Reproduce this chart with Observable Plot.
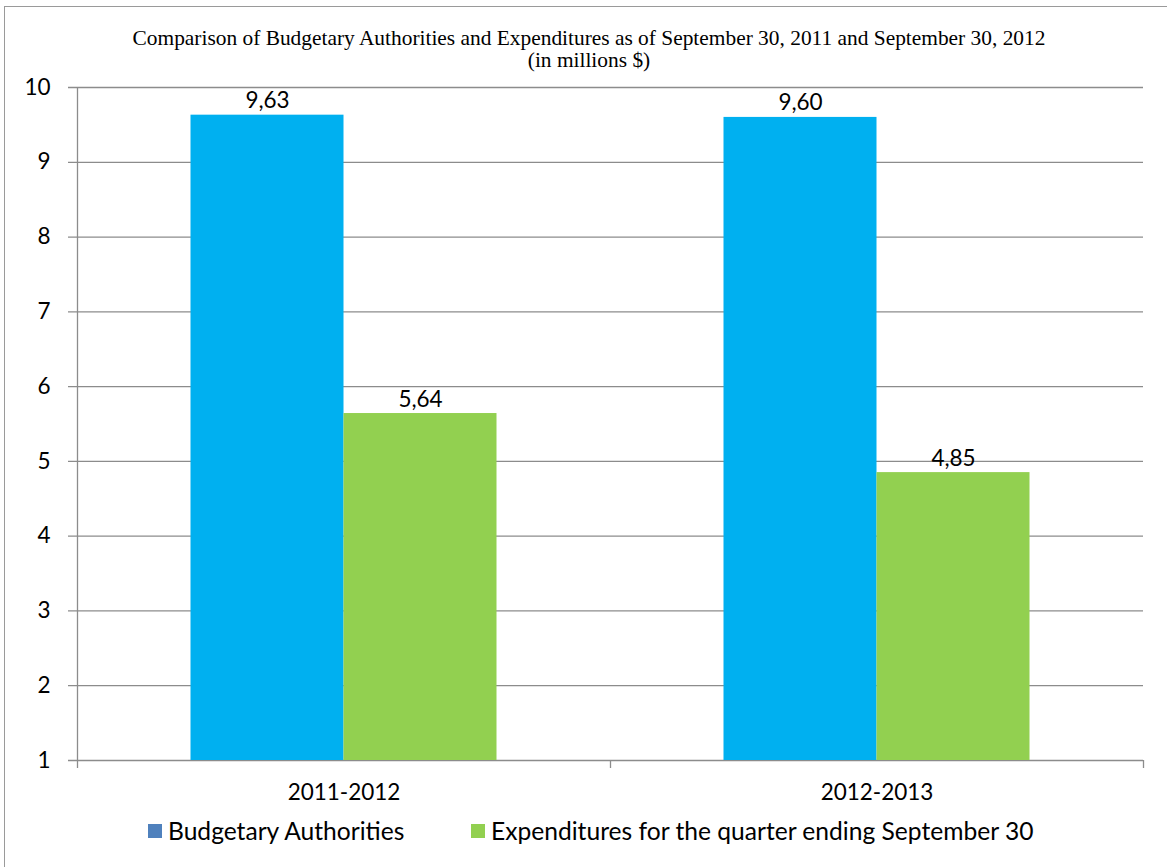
<!DOCTYPE html>
<html>
<head>
<meta charset="utf-8">
<script src="https://cdn.jsdelivr.net/npm/d3@7"></script>
<script src="https://cdn.jsdelivr.net/npm/@observablehq/plot@0.6"></script>
<style>
  html, body { margin: 0; padding: 0; background: #fff; }
  #wrap { position: relative; width: 1167px; height: 867px; overflow: hidden; background: #fff; }
  #border { position: absolute; left: 4px; top: 6px; width: 1200px; height: 900px; border-top: 1.5px solid #9a9a9a; border-left: 1.5px solid #9a9a9a; }
  #title { position: absolute; left: 0; width: 1178px; top: 27px; text-align: center; font-family: "Liberation Serif", "Times New Roman", serif; font-size: 21.4px; line-height: 22px; color: #000; }
  #chart { position: absolute; left: 0; top: 0; }
  #legend { position: absolute; left: 0; top: 816px; width: 1167px; font-family: Lato, "Open Sans", sans-serif; font-size: 24.6px; color: #000; }
  .item { display: flex; align-items: center; position: absolute; white-space: nowrap; }
  .sw { width: 14px; height: 14px; margin-right: 6px; }
</style>
</head>
<body>
<div id="wrap">
  <div id="border"></div>
  <div id="chart"></div>
  <div id="title">Comparison of Budgetary Authorities and Expenditures as of September 30, 2011 and September 30, 2012<br>(in millions $)</div>
  <div id="legend"></div>
</div>
<script>
const categories = ["2011-2012", "2012-2013"];
const seriesNames = ["Budgetary Authorities", "Expenditures for the quarter ending September 30"];
const budgetaryAuthorities = [9.63, 9.60];
const expenditures = [5.64, 4.85];
const yTicks = [1, 2, 3, 4, 5, 6, 7, 8, 9, 10];
const barColors = ["#00B0F0", "#92D050"];
const legendColors = ["#4F81BD", "#92D050"];

const W = 1167, H = 800;
const mL = 77, mR = 24, mT = 87, mB = 40;
const bw = (W - mL - mR) / categories.length; // band width (padding 0)
const half = bw / 2;
const barW = 153;

const data = [];
categories.forEach((c, i) => {
  data.push({category: c, series: seriesNames[0], value: budgetaryAuthorities[i]});
  data.push({category: c, series: seriesNames[1], value: expenditures[i]});
});
const blue = data.filter(d => d.series === seriesNames[0]);
const green = data.filter(d => d.series === seriesNames[1]);
const fmt = v => d3.format(".2f")(v).replace(".", ",");
const grid = "#8c8c8c";
const font = "Lato, 'Open Sans', sans-serif";
const fs = 22.5;

const chart = Plot.plot({
  width: W, height: H,
  marginLeft: mL, marginRight: mR, marginTop: mT, marginBottom: mB,
  style: {fontFamily: font, background: "transparent", overflow: "visible"},
  x: {domain: categories, padding: 0},
  y: {domain: [1, 10]},
  color: {domain: seriesNames, range: barColors},
  marks: [
    Plot.ruleY(yTicks, {y: d => d, stroke: grid, strokeWidth: 1.3, insetLeft: -9}),
    Plot.ruleX([categories[0]], {x: d => d, dx: -half, stroke: grid, strokeWidth: 1.3}),
    Plot.ruleX(categories, {x: d => d, dx: -half, y1: 1, y2: 1, insetBottom: -8, stroke: grid, strokeWidth: 1.3}),
    Plot.ruleX([categories[categories.length - 1]], {x: d => d, dx: half, y1: 1, y2: 1, insetBottom: -8, stroke: grid, strokeWidth: 1.3}),
    Plot.barY(blue, {x: "category", y1: 1, y2: "value", fill: "series", insetLeft: half - barW, insetRight: half}),
    Plot.barY(green, {x: "category", y1: 1, y2: "value", fill: "series", insetLeft: half, insetRight: half - barW}),
    Plot.text(blue, {x: "category", y: "value", text: d => fmt(d.value), dx: -barW / 2, dy: -7, lineAnchor: "bottom", fontSize: fs, fill: "#000"}),
    Plot.text(green, {x: "category", y: "value", text: d => fmt(d.value), dx: barW / 2, dy: -7, lineAnchor: "bottom", fontSize: fs, fill: "#000"}),
    Plot.axisY(yTicks, {tickSize: 0, tickPadding: 27, fontSize: fs, fill: "#000", label: null, tickFormat: d => String(d)}),
    Plot.axisX({tickSize: 0, tickPadding: 24, fontSize: fs, fill: "#000", label: null})
  ]
});
document.getElementById("chart").appendChild(chart);

const legend = document.getElementById("legend");
const lx = [148, 471];
seriesNames.forEach((s, i) => {
  const it = document.createElement("div");
  it.className = "item";
  it.style.left = lx[i] + "px";
  const sw = document.createElement("div");
  sw.className = "sw";
  sw.style.background = legendColors[i];
  const t = document.createElement("span");
  t.textContent = s;
  it.appendChild(sw); it.appendChild(t);
  legend.appendChild(it);
});
</script>
</body>
</html>
